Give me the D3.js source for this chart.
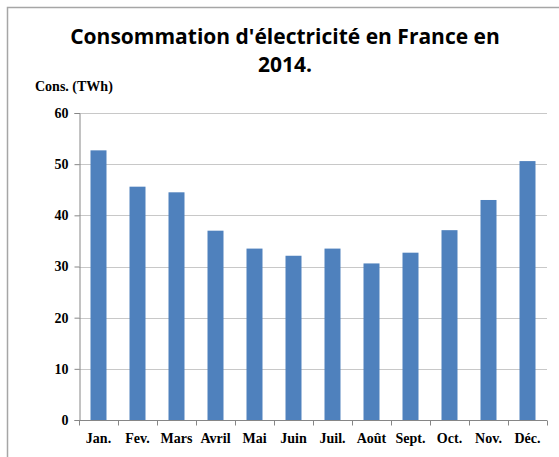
<!DOCTYPE html>
<html>
<head>
<meta charset="utf-8">
<script src="https://cdn.jsdelivr.net/npm/d3@7"></script>
<style>
body { margin: 0; background: #fff; }
</style>
</head>
<body>
<div id="chart"></div>
<script>
// monthly consumption
const months = ["Jan.", "Fev.", "Mars", "Avril", "Mai", "Juin", "Juil.", "Août", "Sept.", "Oct.", "Nov.", "Déc."];
const consumption = [52.7, 45.6, 44.5, 37.0, 33.5, 32.1, 33.5, 30.6, 32.7, 37.1, 43.0, 50.6];
const yTicks = [0, 10, 20, 30, 40, 50, 60];
const titleLines = ["Consommation d'électricité en France en", "2014."];
const yLabel = "Cons. (TWh)";

let w = 559, h = 457;
let padLeft = 79, padRight = 547, padTop = 113, padBottom = 420;
let labelFont = '"Liberation Serif", "Times New Roman", serif';

let svg = d3.select('#chart')
    .append('svg')
    .attr('width', w)
    .attr('height', h);

// frame (only top and left edges visible)
svg.append('path')
    .attr('d', `M7.5,${h} L7.5,7.5 L${w},7.5`)
    .attr('fill', 'none')
    .attr('stroke', '#a6a6a6')
    .attr('stroke-width', 1.5);

svg.selectAll('text.title')
    .data(titleLines)
    .enter()
    .append('text')
    .attr('class', 'title')
    .attr('x', 285)
    .attr('y', (d, i) => 44 + i * 28)
    .attr('text-anchor', 'middle')
    .style('font-family', '"Open Sans", sans-serif')
    .style('font-weight', 'bold')
    .style('font-size', '21px')
    .attr('fill', '#000')
    .text(d => d);

svg.append('text')
    .attr('x', 35)
    .attr('y', 91)
    .style('font-family', labelFont)
    .style('font-weight', 'bold')
    .style('font-size', '14px')
    .text(yLabel);

let x = d3.scaleBand()
    .domain(months)
    .range([padLeft, padRight])
    .paddingInner(0.59)
    .paddingOuter(0.295);

let y = d3.scaleLinear()
    .domain([0, 60])
    .range([padBottom, padTop]);

// gridlines
svg.selectAll('line.grid')
    .data(yTicks.filter(d => d > 0))
    .enter()
    .append('line')
    .attr('class', 'grid')
    .attr('x1', padLeft)
    .attr('x2', padRight)
    .attr('y1', d => Math.round(y(d)) + 0.5)
    .attr('y2', d => Math.round(y(d)) + 0.5)
    .attr('stroke', '#c8c8c8')
    .attr('stroke-width', 1.2);

svg.selectAll('rect')
    .data(consumption)
    .enter()
    .append('rect')
    .attr('x', (d, i) => x(months[i]))
    .attr('y', d => y(d))
    .attr('width', x.bandwidth())
    .attr('height', d => y(0) - y(d))
    .attr('fill', '#4f81bd');

// y axis
let yAxis = svg.append('g')
    .attr('transform', `translate(${padLeft + 0.5},0)`)
    .call(d3.axisLeft(y).tickValues(yTicks).tickSize(5).tickPadding(6).tickFormat(d3.format('d')));
yAxis.select('.domain').attr('stroke', '#868686');
yAxis.selectAll('.tick line').attr('stroke', '#868686');
yAxis.selectAll('text')
    .style('font-family', labelFont)
    .style('font-weight', 'bold')
    .style('font-size', '14px')
    .attr('fill', '#000');

// x axis: ticks at category boundaries
let g = svg.append('g').attr('transform', `translate(0,${Math.round(padBottom) + 0.5})`);
g.append('line')
    .attr('x1', padLeft).attr('x2', padRight)
    .attr('stroke', '#868686');
let bounds = d3.range(months.length + 1).map(i => padLeft + i * x.step());
g.selectAll('line.tk')
    .data(bounds)
    .enter()
    .append('line')
    .attr('class', 'tk')
    .attr('x1', d => Math.round(d) + 0.5)
    .attr('x2', d => Math.round(d) + 0.5)
    .attr('y1', 0)
    .attr('y2', 5)
    .attr('stroke', '#868686');
g.selectAll('text')
    .data(months)
    .enter()
    .append('text')
    .attr('x', d => x(d) + x.bandwidth() / 2)
    .attr('y', 22)
    .attr('text-anchor', 'middle')
    .style('font-family', labelFont)
    .style('font-weight', 'bold')
    .style('font-size', '14px')
    .text(d => d);
</script>
</body>
</html>
